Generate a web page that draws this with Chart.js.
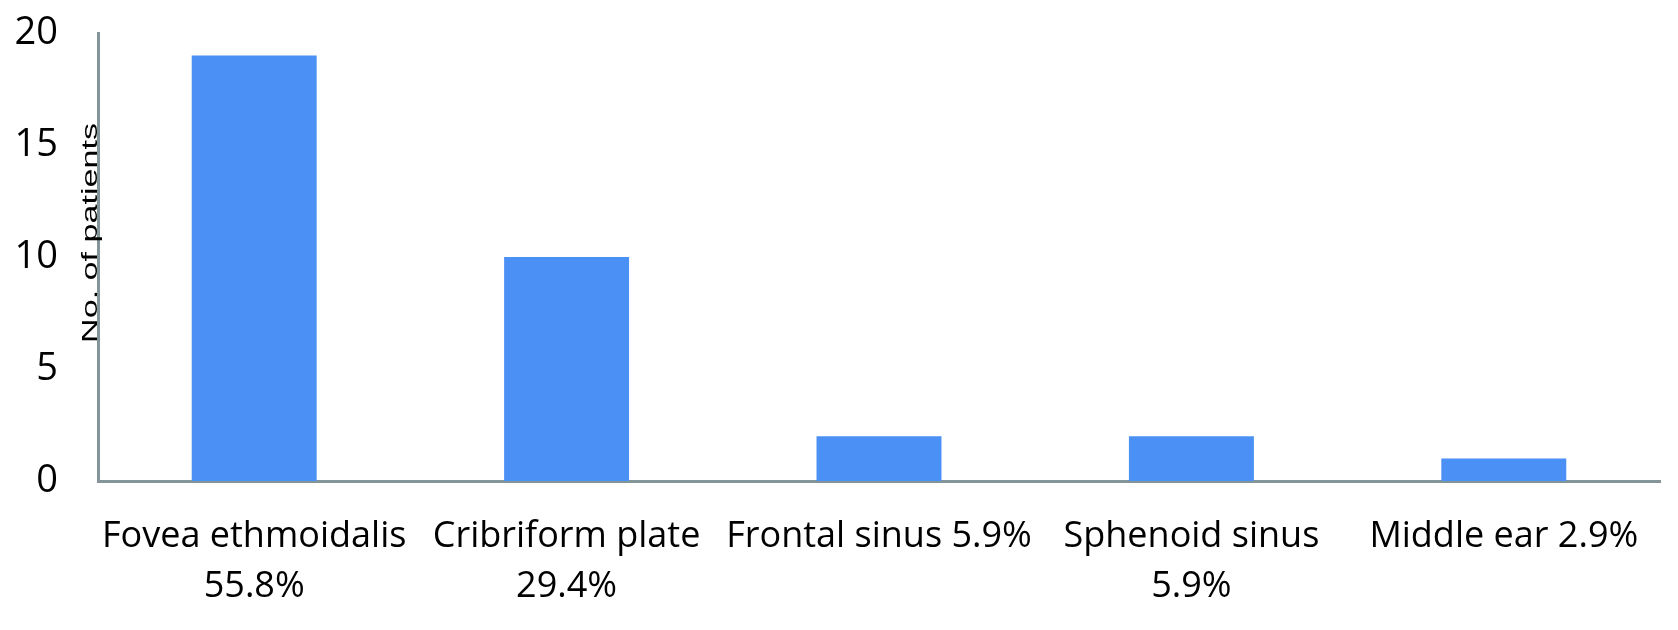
<!DOCTYPE html>
<html>
<head>
<meta charset="utf-8">
<script src="https://cdn.jsdelivr.net/npm/chart.js@4"></script>
<style>
  html, body { margin: 0; padding: 0; background: #fff; }
  #wrap { width: 1678px; height: 630px; }
</style>
</head>
<body>
<div id="wrap"><canvas id="myChart"></canvas></div>
<script>
let categories = [
  ["Fovea ethmoidalis", "55.8%"],
  ["Cribriform plate", "29.4%"],
  "Frontal sinus 5.9%",
  ["Sphenoid sinus", "5.9%"],
  "Middle ear 2.9%",
];
let patients = [19, 10, 2, 2, 1];
let yTicks = [0, 5, 10, 15, 20];
let yTitle = "No. of patients";

// y title in the original is a narrow, stretched face
let yTitlePlugin = {
  id: "yTitle",
  afterDraw(chart) {
    let c = chart.ctx;
    c.save();
    c.translate(91, 233);
    c.rotate(-Math.PI / 2);
    c.scale(1.55, 1);
    c.font = "22px 'Liberation Sans', Arial, sans-serif";
    c.fillStyle = "#000";
    c.textAlign = "center";
    c.textBaseline = "middle";
    c.fillText(yTitle, 0, 0);
    c.restore();
  },
};

let ctx = document.getElementById("myChart").getContext("2d");
let myChart = new Chart(ctx, {
  type: "bar",
  data: {
    labels: categories,
    datasets: [
      {
        data: patients,
        backgroundColor: "#4b90f5",
        borderWidth: 0,
        categoryPercentage: 1,
        barPercentage: 0.4,
      },
    ],
  },
  options: {
    responsive: true,
    maintainAspectRatio: false,
    animation: false,
    layout: { padding: { top: 33, right: 18, left: 0, bottom: 0 } },
    plugins: {
      legend: { display: false },
      tooltip: { enabled: false },
    },
    scales: {
      x: {
        grid: { display: false, drawTicks: false },
        border: { display: true, color: "#84959a", width: 3 },
        ticks: {
          color: "#000",
          padding: 31,
          maxRotation: 0,
          autoSkip: false,
          font: { family: "'Open Sans', sans-serif", size: 36, lineHeight: 1.39 },
        },
        afterFit(scale) {
          scale.height = 149;
          scale.paddingLeft = 0;
          scale.paddingRight = 0;
        },
      },
      y: {
        min: 0,
        max: 20,
        afterBuildTicks(scale) { scale.ticks = yTicks.map(v => ({ value: v })); },
        grid: { display: false, drawTicks: false },
        border: { display: true, color: "#84959a", width: 3 },
        ticks: {
          color: "#000",
          padding: 40,
          font: { family: "'Open Sans', sans-serif", size: 38 },
        },
        afterFit(scale) {
          scale.width = 98;
          scale.paddingTop = 0;
          scale.paddingBottom = 0;
        },
      },
    },
  },
  plugins: [yTitlePlugin],
});
</script>
</body>
</html>
